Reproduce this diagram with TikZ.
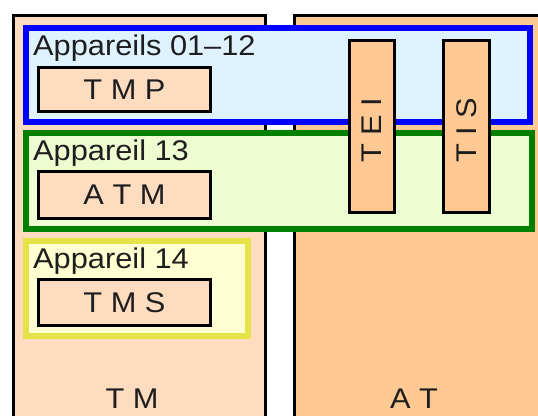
\documentclass[tikz,border=0pt]{standalone}
\usepackage{fontspec}
\setmainfont[FakeStretch=1.08]{Liberation Sans}
\usetikzlibrary{positioning}

\definecolor{tmfill}{HTML}{FDDCC0}
\definecolor{atfill}{HTML}{FFC993}
\definecolor{bluefill}{HTML}{DEF2FF}
\definecolor{greenfill}{HTML}{EEFCD2}
\definecolor{yellowfill}{HTML}{FFFFD2}
\definecolor{yellowline}{HTML}{E6E34A}
\definecolor{greenline}{HTML}{008000}
\definecolor{textgray}{HTML}{1E1E1E}

\tikzset{
  column/.style={draw=black, line width=3pt, inner sep=0pt, anchor=north west},
  group/.style={line width=6pt, inner sep=0pt},
  unit/.style={draw=black, line width=3pt, fill=tmfill, inner sep=0pt},
  vunit/.style={unit, fill=atfill},
  grouplabel/.style={inner sep=0pt, anchor=base west},
}

\begin{document}
\begin{tikzpicture}[x=1pt, y=-1pt, font=\fontsize{28.5}{30}\selectfont, text=textgray]
  \useasboundingbox (0,0) rectangle (538,415);
  \clip (0,0) rectangle (538,415);
  % columns
  \node[column, fill=tmfill, minimum width=252pt, minimum height=420pt] (tm) at (11.5,13.5) {};
  \node[column, fill=atfill, minimum width=270pt, minimum height=420pt] (at) at (292.5,13.5) {};
  \node[inner sep=0pt, anchor=base] (tmlabel) at (132,408) {T M};
  \node[inner sep=0pt, anchor=base] (atlabel) at (414,408) {A T};
  % groups of devices
  \node[group, draw=blue, fill=bluefill, minimum width=504pt, minimum height=94pt] (grp1) at (278,75) {};
  \node[group, draw=greenline, fill=greenfill, minimum width=506pt, minimum height=96pt] (grp2) at (279,181) {};
  \node[group, draw=yellowline, fill=yellowfill, minimum width=222pt, minimum height=95pt] (grp3) at (137,288.5) {};
  \node[grouplabel] (lab1) at (33,55) {Appareils 01--12};
  \node[grouplabel] (lab2) at (33,160) {Appareil 13};
  \node[grouplabel] (lab3) at (33,268) {Appareil 14};
  % units
  \node[unit, minimum width=172pt, minimum height=44pt] (tmp) at (124.5,89.5) {T M P};
  \node[unit, minimum width=172pt, minimum height=47pt] (atm) at (124.5,195) {A T M};
  \node[unit, minimum width=172pt, minimum height=46pt] (tms) at (124.5,302.5) {T M S};
  \node[vunit, minimum width=45pt, minimum height=172pt] (tei) at (372,126.5) {};
  \node[vunit, minimum width=46pt, minimum height=172pt] (tis) at (466.5,126.5) {};
  \node[rotate=90, inner sep=0pt] at ([yshift=-4pt]tei.center) {T E I};
  \node[rotate=90, inner sep=0pt] at ([yshift=-4pt]tis.center) {T I S};
\end{tikzpicture}
\end{document}
